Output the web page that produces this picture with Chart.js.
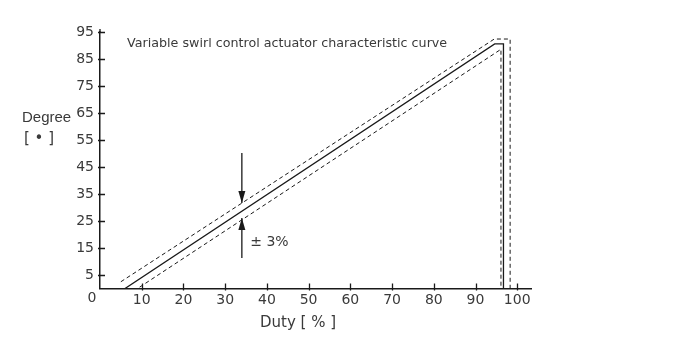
<!DOCTYPE html>
<html>
<head>
<meta charset="utf-8">
<script src="https://cdn.jsdelivr.net/npm/chart.js@4/dist/chart.umd.min.js"></script>
<style>
html,body{margin:0;padding:0;background:#fff;}
#wrap{width:700px;height:350px;position:relative;}
</style>
</head>
<body>
<div id="wrap"><canvas id="c" width="700" height="350"></canvas></div>
<script>
// ---- data ----
const xTicks = [10, 20, 30, 40, 50, 60, 70, 80, 90, 100];
const yTicks = [5, 15, 25, 35, 45, 55, 65, 75, 85, 95];

const solidX = [6, 94.6, 96.7, 96.7];
const solidY = [0, 90.6, 90.6, 0];
const upperX = [5, 94.5, 98.3, 98.3];
const upperY = [2.5, 92.4, 92.4, 0];
const lowerX = [9.5, 96.1, 96.1];
const lowerY = [0.5, 88.6, 0];

const arrowX = [34, 34];
const arrowDownY = [50.2, 31.7];
const arrowUpY = [11.3, 26.1];

const chartTitle = 'Variable swirl control actuator characteristic curve';
const xTitle = 'Duty [ % ]';
const yTitle1 = 'Degree';
const yTitle2 = '[ \u2022 ]';
const tolText = '\u00B1 3%';

function pts(xs, ys) { return xs.map((x, i) => ({x: x, y: ys[i]})); }

const FONT = '"Liberation Sans", Arial, sans-serif';
const FONT2 = '"DejaVu Sans", sans-serif';
const INK = '#1a1a1a';
const TXT = '#3a3a3a';

const decor = {
  id: 'decor',
  afterDraw(chart) {
    const ctx = chart.ctx;
    const xs = chart.scales.x, ys = chart.scales.y;
    const ax = xs.getPixelForValue(0), ay = ys.getPixelForValue(0);
    ctx.save();
    ctx.strokeStyle = INK;
    ctx.lineWidth = 1.3;
    // y axis line slightly beyond top tick
    ctx.beginPath();
    ctx.moveTo(ax, ys.getPixelForValue(95)); ctx.lineTo(ax, ys.getPixelForValue(95) - 3);
    // tick marks crossing the axes
    yTicks.forEach(v => {
      const p = Math.round(ys.getPixelForValue(v)) + 0.5;
      ctx.moveTo(ax - 2, p); ctx.lineTo(ax + 5, p);
    });
    xTicks.forEach(v => {
      const p = Math.round(xs.getPixelForValue(v)) + 0.5;
      ctx.moveTo(p, ay + 2); ctx.lineTo(p, ay - 5);
    });
    ctx.stroke();
    // arrow heads
    ctx.fillStyle = INK;
    function head(xv, yv, dir) {
      const px = xs.getPixelForValue(xv), py = ys.getPixelForValue(yv);
      ctx.beginPath();
      ctx.moveTo(px, py);
      ctx.lineTo(px - 3.5, py - dir * 12);
      ctx.lineTo(px + 3.5, py - dir * 12);
      ctx.closePath();
      ctx.fill();
    }
    head(arrowX[1], arrowDownY[1], 1);
    head(arrowX[1], arrowUpY[1], -1);
    // texts
    ctx.fillStyle = TXT;
    ctx.textBaseline = 'middle';
    ctx.textAlign = 'left';
    ctx.font = '12.7px ' + FONT2;
    ctx.fillText(chartTitle, 127, 44);
    ctx.font = '14px ' + FONT2;
    ctx.fillText(tolText, xs.getPixelForValue(36), ys.getPixelForValue(17.2));
    ctx.font = '15px ' + FONT;
    ctx.fillText(yTitle1, 22, 118);
    ctx.font = '15px ' + FONT2;
    ctx.fillText(yTitle2, 24, 139);
    ctx.textAlign = 'center';
    ctx.fillText(xTitle, 298, 323);
    ctx.font = '14px ' + FONT2;
    ctx.fillText('0', ax - 8, 298);
    ctx.restore();
  }
};

new Chart(document.getElementById('c'), {
  type: 'scatter',
  data: {
    datasets: [
      { data: pts(solidX, solidY), showLine: true, borderColor: INK, borderWidth: 1.3, pointRadius: 0, tension: 0 },
      { data: pts(upperX, upperY), showLine: true, borderColor: INK, borderWidth: 1, borderDash: [4, 3], pointRadius: 0, tension: 0 },
      { data: pts(lowerX, lowerY), showLine: true, borderColor: INK, borderWidth: 1, borderDash: [4, 3], pointRadius: 0, tension: 0 },
      { data: pts(arrowX, arrowDownY), showLine: true, borderColor: INK, borderWidth: 1.3, pointRadius: 0 },
      { data: pts(arrowX, arrowUpY), showLine: true, borderColor: INK, borderWidth: 1.3, pointRadius: 0 }
    ]
  },
  options: {
    responsive: false,
    animation: false,
    devicePixelRatio: 1,
    layout: { padding: { left: 0, right: 169, top: 32, bottom: 0 } },
    plugins: { legend: { display: false }, tooltip: { enabled: false }, title: { display: false } },
    scales: {
      x: {
        type: 'linear', min: 0, max: 103.3,
        afterBuildTicks(s) { s.ticks = xTicks.map(v => ({value: v})); },
        afterFit(s) { s.height = 61.5; },
        grid: { display: false, drawTicks: false },
        border: { display: true, color: INK, width: 1.5 },
        ticks: { color: TXT, font: { family: FONT2, size: 14 }, padding: 3, maxRotation: 0, autoSkip: false }
      },
      y: {
        type: 'linear', min: 0, max: 95,
        afterBuildTicks(s) { s.ticks = yTicks.map(v => ({value: v})); },
        afterFit(s) { s.width = 100; },
        grid: { display: false, drawTicks: false },
        border: { display: true, color: INK, width: 1.5 },
        ticks: { color: TXT, font: { family: FONT2, size: 14 }, padding: 6, autoSkip: false }
      }
    }
  },
  plugins: [decor]
});
</script>
</body>
</html>
